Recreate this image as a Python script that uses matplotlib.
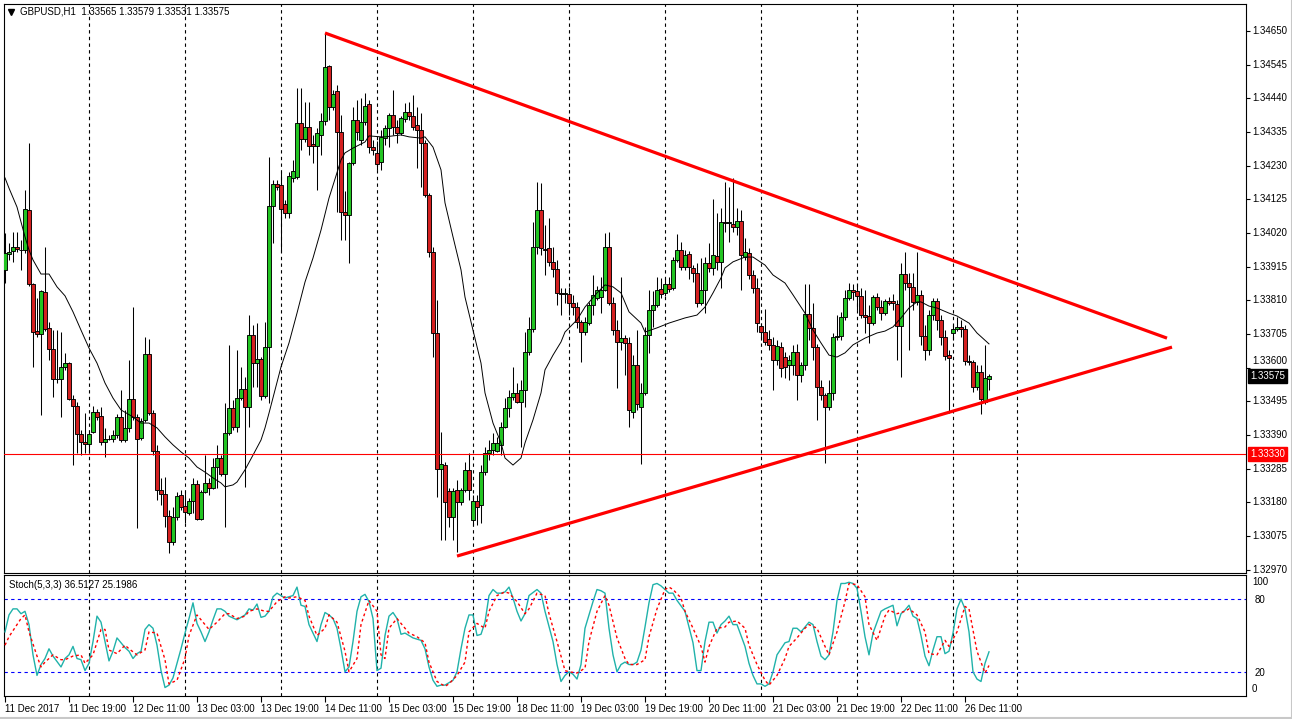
import matplotlib
matplotlib.use("Agg")
import matplotlib.pyplot as plt
import matplotlib.transforms as mtransforms
from matplotlib.lines import Line2D

plt.rcParams['font.family'] = ['Liberation Sans', 'DejaVu Sans']

# GBPUSD H1 candles, one per hour from 11 Dec 03:00 to 26 Dec 2017
open_ = [
    1.33905, 1.33955, 1.33964, 1.33976, 1.33967, 1.33967, 1.34092, 1.33861, 1.33714, 1.33705,
    1.33836, 1.33724, 1.33658, 1.33565, 1.33565, 1.33602, 1.33614, 1.33502, 1.33480, 1.33393,
    1.33368, 1.33362, 1.33399, 1.33462, 1.33449, 1.33368, 1.33377, 1.33378, 1.33390, 1.33446,
    1.33374, 1.33412, 1.33502, 1.33446, 1.33380, 1.33437, 1.33643, 1.33458, 1.33340, 1.33218,
    1.33206, 1.33137, 1.33056, 1.33134, 1.33202, 1.33168, 1.33146, 1.33184, 1.33237, 1.33128,
    1.33212, 1.33240, 1.33224, 1.33290, 1.33318, 1.33268, 1.33396, 1.33474, 1.33415, 1.33505,
    1.33533, 1.33477, 1.33702, 1.33614, 1.33627, 1.33511, 1.33664, 1.34104, 1.34173, 1.34170,
    1.34110, 1.34082, 1.34192, 1.34195, 1.34363, 1.34313, 1.34351, 1.34298, 1.34291, 1.34326,
    1.34369, 1.34541, 1.34413, 1.34463, 1.34335, 1.34086, 1.34076, 1.34238, 1.34373, 1.34310,
    1.34366, 1.34423, 1.34288, 1.34270, 1.34241, 1.34316, 1.34348, 1.34388, 1.34351, 1.34332,
    1.34376, 1.34398, 1.34385, 1.34357, 1.34341, 1.34301, 1.34139, 1.33961, 1.33708, 1.33284,
    1.33295, 1.33215, 1.33134, 1.33218, 1.33181, 1.33218, 1.33281, 1.33125, 1.33184, 1.33171,
    1.33274, 1.33334, 1.33343, 1.33340, 1.33360, 1.33415, 1.33474, 1.33508, 1.33521, 1.33493,
    1.33530, 1.33649, 1.33721, 1.33976, 1.34092, 1.33970, 1.33973, 1.33930, 1.33908, 1.33833,
    1.33831, 1.33830, 1.33802, 1.33789, 1.33742, 1.33711, 1.33739, 1.33795, 1.33817, 1.33820,
    1.33842, 1.33976, 1.33802, 1.33717, 1.33680, 1.33693, 1.33677, 1.33462, 1.33608, 1.33477,
    1.33521, 1.33702, 1.33780, 1.33795, 1.33845, 1.33833, 1.33861, 1.33849, 1.33936, 1.33967,
    1.33914, 1.33955, 1.33911, 1.33895, 1.33802, 1.33842, 1.33926, 1.33911, 1.33948, 1.33930,
    1.34054, 1.34052, 1.34048, 1.34039, 1.34057, 1.33945, 1.33958, 1.33889, 1.33849, 1.33730,
    1.33711, 1.33689, 1.33671, 1.33624, 1.33664, 1.33633, 1.33608, 1.33608, 1.33649, 1.33577,
    1.33608, 1.33767, 1.33724, 1.33664, 1.33540, 1.33515, 1.33477, 1.33521, 1.33696, 1.33699,
    1.33758, 1.33817, 1.33842, 1.33839, 1.33824, 1.33764, 1.33761, 1.33739, 1.33820, 1.33789,
    1.33771, 1.33808, 1.33808, 1.33799, 1.33730, 1.33892, 1.33864, 1.33852, 1.33805, 1.33827,
    1.33699, 1.33655, 1.33764, 1.33808, 1.33749, 1.33696, 1.33640, 1.33708, 1.33721, 1.33727,
    1.33721, 1.33621, 1.33618, 1.33540, 1.33586, 1.33493, 1.33565,
]
high = [
    1.34020, 1.33989, 1.34023, 1.34023, 1.33998, 1.34154, 1.34301, 1.33865, 1.33817, 1.33842,
    1.33976, 1.33742, 1.33717, 1.33717, 1.33711, 1.33646, 1.33617, 1.33515, 1.33493, 1.33405,
    1.33458, 1.33399, 1.33480, 1.33471, 1.33477, 1.33412, 1.33390, 1.33405, 1.33455, 1.33530,
    1.33468, 1.33624, 1.33789, 1.33455, 1.33443, 1.33696, 1.33689, 1.33468, 1.33359, 1.33256,
    1.33259, 1.33156, 1.33165, 1.33212, 1.33218, 1.33212, 1.33193, 1.33256, 1.33249, 1.33218,
    1.33327, 1.33256, 1.33318, 1.33359, 1.33327, 1.33490, 1.33671, 1.33499, 1.33655, 1.33602,
    1.33571, 1.33764, 1.33733, 1.33739, 1.33633, 1.33742, 1.34257, 1.34185, 1.34185, 1.34210,
    1.34123, 1.34210, 1.34248, 1.34472, 1.34472, 1.34429, 1.34429, 1.34326, 1.34348, 1.34394,
    1.34644, 1.34544, 1.34466, 1.34482, 1.34388, 1.34150, 1.34241, 1.34413, 1.34435, 1.34441,
    1.34457, 1.34435, 1.34310, 1.34307, 1.34341, 1.34357, 1.34394, 1.34466, 1.34373, 1.34385,
    1.34426, 1.34429, 1.34451, 1.34413, 1.34394, 1.34310, 1.34145, 1.33976, 1.33811, 1.33399,
    1.33305, 1.33224, 1.33224, 1.33249, 1.33224, 1.33306, 1.33334, 1.33203, 1.33203, 1.33296,
    1.33352, 1.33374, 1.33396, 1.33384, 1.33430, 1.33505, 1.33530, 1.33602, 1.33552, 1.33561,
    1.33711, 1.33758, 1.34054, 1.34179, 1.34176, 1.34045, 1.34067, 1.33976, 1.33936, 1.33849,
    1.33849, 1.33852, 1.33827, 1.33805, 1.33749, 1.33758, 1.33805, 1.33889, 1.33855, 1.33883,
    1.34020, 1.34023, 1.33820, 1.33749, 1.33883, 1.33702, 1.33696, 1.33640, 1.33717, 1.33552,
    1.33727, 1.33842, 1.33839, 1.33883, 1.33880, 1.33880, 1.33883, 1.33945, 1.34017, 1.33992,
    1.33967, 1.33965, 1.33920, 1.33926, 1.33942, 1.33945, 1.33989, 1.34126, 1.34082, 1.34098,
    1.34179, 1.34164, 1.34191, 1.34098, 1.34092, 1.34004, 1.33973, 1.33905, 1.33880, 1.33739,
    1.33783, 1.33717, 1.33696, 1.33686, 1.33680, 1.33649, 1.33640, 1.33671, 1.33674, 1.33618,
    1.33861, 1.33861, 1.33802, 1.33674, 1.33561, 1.33521, 1.33561, 1.33708, 1.33764, 1.33774,
    1.33842, 1.33864, 1.33861, 1.33861, 1.33849, 1.33842, 1.33795, 1.33827, 1.33833, 1.33811,
    1.33814, 1.33820, 1.33830, 1.33811, 1.33926, 1.33961, 1.33895, 1.33895, 1.33961, 1.33842,
    1.33733, 1.33780, 1.33817, 1.33817, 1.33764, 1.33717, 1.33655, 1.33733, 1.33758, 1.33749,
    1.33733, 1.33640, 1.33624, 1.33608, 1.33608, 1.33671, 1.33579,
]
low = [
    1.33864, 1.33936, 1.33930, 1.33961, 1.33905, 1.33958, 1.33855, 1.33602, 1.33696, 1.33452,
    1.33715, 1.33624, 1.33508, 1.33552, 1.33446, 1.33593, 1.33499, 1.33296, 1.33334, 1.33327,
    1.33334, 1.33334, 1.33396, 1.33437, 1.33359, 1.33321, 1.33374, 1.33368, 1.33380, 1.33368,
    1.33368, 1.33399, 1.33437, 1.33100, 1.33374, 1.33430, 1.33452, 1.33327, 1.33187, 1.33171,
    1.33103, 1.33022, 1.33047, 1.33125, 1.33156, 1.33115, 1.33140, 1.33146, 1.33125, 1.33125,
    1.33209, 1.33203, 1.33220, 1.33224, 1.33262, 1.33103, 1.33390, 1.33405, 1.33399, 1.33499,
    1.33228, 1.33415, 1.33540, 1.33540, 1.33499, 1.33505, 1.33490, 1.33989, 1.34154, 1.33961,
    1.34067, 1.34067, 1.34179, 1.34189, 1.34279, 1.34304, 1.34263, 1.34238, 1.34154, 1.34263,
    1.34357, 1.34373, 1.34404, 1.34086, 1.33998, 1.33998, 1.33926, 1.34232, 1.34310, 1.34295,
    1.34357, 1.34270, 1.34263, 1.34217, 1.34217, 1.34295, 1.34288, 1.34326, 1.34301, 1.34326,
    1.34366, 1.34373, 1.34341, 1.34223, 1.34164, 1.34133, 1.33945, 1.33633, 1.33196, 1.33062,
    1.33062, 1.33103, 1.33062, 1.33025, 1.33171, 1.33212, 1.33187, 1.33109, 1.33109, 1.33115,
    1.33265, 1.33312, 1.33327, 1.33337, 1.33327, 1.33412, 1.33446, 1.33499, 1.33490, 1.33352,
    1.33477, 1.33640, 1.33711, 1.33955, 1.33951, 1.33889, 1.33917, 1.33883, 1.33795, 1.33764,
    1.33802, 1.33764, 1.33764, 1.33724, 1.33618, 1.33702, 1.33733, 1.33764, 1.33811, 1.33771,
    1.33839, 1.33795, 1.33702, 1.33536, 1.33655, 1.33577, 1.33415, 1.33443, 1.33468, 1.33299,
    1.33515, 1.33646, 1.33727, 1.33790, 1.33817, 1.33825, 1.33836, 1.33842, 1.33930, 1.33905,
    1.33905, 1.33877, 1.33867, 1.33789, 1.33795, 1.33771, 1.33899, 1.33889, 1.33905, 1.33848,
    1.34023, 1.33992, 1.34023, 1.34014, 1.33842, 1.33936, 1.33877, 1.33833, 1.33711, 1.33686,
    1.33671, 1.33655, 1.33530, 1.33608, 1.33571, 1.33568, 1.33561, 1.33577, 1.33499, 1.33555,
    1.33593, 1.33686, 1.33624, 1.33437, 1.33499, 1.33302, 1.33468, 1.33499, 1.33686, 1.33686,
    1.33749, 1.33811, 1.33811, 1.33780, 1.33755, 1.33708, 1.33677, 1.33733, 1.33780, 1.33749,
    1.33764, 1.33795, 1.33780, 1.33624, 1.33571, 1.33842, 1.33655, 1.33780, 1.33795, 1.33671,
    1.33624, 1.33640, 1.33749, 1.33717, 1.33671, 1.33624, 1.33458, 1.33686, 1.33714, 1.33696,
    1.33608, 1.33608, 1.33524, 1.33530, 1.33455, 1.33487, 1.33531,
]
close = [
    1.33958, 1.33961, 1.33976, 1.33970, 1.33968, 1.34095, 1.33861, 1.33711, 1.33705, 1.33839,
    1.33721, 1.33658, 1.33565, 1.33564, 1.33602, 1.33614, 1.33502, 1.33480, 1.33393, 1.33368,
    1.33362, 1.33393, 1.33462, 1.33446, 1.33368, 1.33377, 1.33378, 1.33390, 1.33446, 1.33374,
    1.33412, 1.33502, 1.33446, 1.33377, 1.33433, 1.33643, 1.33458, 1.33340, 1.33218, 1.33206,
    1.33137, 1.33056, 1.33134, 1.33199, 1.33165, 1.33150, 1.33184, 1.33237, 1.33128, 1.33212,
    1.33240, 1.33224, 1.33290, 1.33318, 1.33268, 1.33396, 1.33474, 1.33415, 1.33505, 1.33533,
    1.33477, 1.33702, 1.33614, 1.33627, 1.33511, 1.33664, 1.34104, 1.34173, 1.34164, 1.34095,
    1.34082, 1.34198, 1.34213, 1.34363, 1.34313, 1.34351, 1.34291, 1.34291, 1.34332, 1.34369,
    1.34538, 1.34413, 1.34454, 1.34335, 1.34086, 1.34076, 1.34238, 1.34373, 1.34335, 1.34366,
    1.34416, 1.34288, 1.34279, 1.34235, 1.34320, 1.34348, 1.34388, 1.34351, 1.34332, 1.34379,
    1.34398, 1.34385, 1.34351, 1.34341, 1.34301, 1.34139, 1.33961, 1.33708, 1.33284, 1.33299,
    1.33181, 1.33134, 1.33215, 1.33181, 1.33218, 1.33281, 1.33218, 1.33184, 1.33165, 1.33274,
    1.33334, 1.33343, 1.33365, 1.33365, 1.33415, 1.33474, 1.33508, 1.33521, 1.33493, 1.33530,
    1.33649, 1.33721, 1.33976, 1.34092, 1.33973, 1.33968, 1.33930, 1.33908, 1.33833, 1.33831,
    1.33833, 1.33802, 1.33789, 1.33742, 1.33711, 1.33742, 1.33795, 1.33827, 1.33842, 1.33842,
    1.33976, 1.33802, 1.33717, 1.33680, 1.33693, 1.33677, 1.33468, 1.33608, 1.33486, 1.33521,
    1.33702, 1.33780, 1.33795, 1.33842, 1.33830, 1.33861, 1.33845, 1.33936, 1.33967, 1.33914,
    1.33951, 1.33914, 1.33895, 1.33802, 1.33842, 1.33926, 1.33911, 1.33951, 1.33930, 1.34054,
    1.34052, 1.34054, 1.34039, 1.34057, 1.33951, 1.33961, 1.33889, 1.33849, 1.33739, 1.33711,
    1.33680, 1.33671, 1.33624, 1.33668, 1.33599, 1.33602, 1.33624, 1.33649, 1.33577, 1.33608,
    1.33767, 1.33724, 1.33664, 1.33540, 1.33515, 1.33477, 1.33521, 1.33696, 1.33699, 1.33758,
    1.33817, 1.33842, 1.33836, 1.33824, 1.33764, 1.33758, 1.33739, 1.33820, 1.33789, 1.33771,
    1.33808, 1.33802, 1.33802, 1.33730, 1.33892, 1.33864, 1.33852, 1.33805, 1.33827, 1.33699,
    1.33655, 1.33764, 1.33808, 1.33749, 1.33696, 1.33636, 1.33630, 1.33721, 1.33727, 1.33721,
    1.33621, 1.33618, 1.33540, 1.33586, 1.33502, 1.33568, 1.33575,
]

# moving average line (read at sampled bars)
ma_bar = [0, 1, 3, 5, 6, 7, 9, 11, 13, 15, 17, 19, 21, 23, 25, 27, 29, 32, 34, 36,
          38, 40, 42, 44, 46, 48, 50, 52, 54, 55, 57, 58, 60, 62, 64, 65, 66, 69, 71, 73,
          75, 77, 79, 81, 84, 85, 87, 90, 91, 94, 95, 99, 101, 104, 105, 107, 109, 110, 112, 114,
          115, 117, 119, 120, 122, 124, 125, 127, 129, 130, 132, 134, 135, 137, 139, 140, 143, 145, 148, 150,
          152, 154, 156, 159, 160, 163, 166, 170, 173, 175, 177, 179, 180, 182, 185, 187, 190, 192, 195, 197,
          200, 202, 204, 206, 208, 210, 212, 215, 218, 220, 222, 224, 226, 228, 229, 231, 233, 236, 238, 241,
          243, 246]
ma_val = [1.34192, 1.34160, 1.34101, 1.34008, 1.33967, 1.33936, 1.33892, 1.33892, 1.33852, 1.33824,
          1.33774, 1.33717, 1.33661, 1.33614, 1.33552, 1.33505, 1.33468, 1.33446, 1.33427, 1.33427,
          1.33412, 1.33384, 1.33359, 1.33337, 1.33318, 1.33290, 1.33274, 1.33256, 1.33240, 1.33228,
          1.33234, 1.33243, 1.33281, 1.33327, 1.33374, 1.33412, 1.33458, 1.33602, 1.33677, 1.33770,
          1.33867, 1.33942, 1.34029, 1.34129, 1.34248, 1.34270, 1.34285, 1.34304, 1.34323, 1.34320,
          1.34320, 1.34326, 1.34320, 1.34316, 1.34320, 1.34288, 1.34217, 1.34114, 1.34008, 1.33905,
          1.33820, 1.33717, 1.33614, 1.33521, 1.33427, 1.33365, 1.33318, 1.33296, 1.33318, 1.33365,
          1.33437, 1.33521, 1.33593, 1.33639, 1.33680, 1.33711, 1.33749, 1.33789, 1.33833, 1.33858,
          1.33852, 1.33833, 1.33774, 1.33739, 1.33711, 1.33724, 1.33739, 1.33755, 1.33764, 1.33789,
          1.33833, 1.33880, 1.33911, 1.33930, 1.33945, 1.33945, 1.33920, 1.33889, 1.33864, 1.33827,
          1.33770, 1.33717, 1.33677, 1.33639, 1.33633, 1.33646, 1.33671, 1.33692, 1.33708, 1.33714,
          1.33727, 1.33755, 1.33786, 1.33805, 1.33805, 1.33792, 1.33786, 1.33770, 1.33761, 1.33739,
          1.33708, 1.33674]

# Stoch(5,3,3) main line
st_bar = [0, 1, 2, 3, 4, 5, 6, 7, 8, 9, 10, 11, 12, 14, 15, 16, 17, 18, 19, 20,
          21, 22, 23, 24, 25, 26, 27, 28, 29, 30, 31, 32, 33, 34, 35, 36, 37, 38, 39, 40,
          41, 42, 43, 44, 45, 46, 47, 48, 49, 50, 51, 52, 53, 54, 55, 56, 58, 59, 60, 61,
          62, 63, 64, 65, 66, 67, 68, 69, 70, 71, 72, 73, 74, 75, 76, 77, 78, 79, 80, 81,
          82, 83, 84, 85, 86, 87, 88, 89, 90, 91, 92, 93, 94, 95, 96, 97, 98, 99, 100, 101,
          102, 104, 105, 106, 107, 108, 109, 110, 112, 113, 114, 115, 116, 117, 118, 119, 120, 121, 122, 123,
          124, 125, 126, 127, 128, 129, 130, 131, 133, 134, 135, 137, 138, 139, 140, 141, 142, 143, 144, 145,
          147, 148, 149, 150, 151, 152, 153, 154, 155, 156, 157, 158, 159, 160, 161, 162, 163, 164, 165, 166,
          167, 168, 170, 171, 172, 173, 174, 175, 176, 177, 178, 179, 180, 181, 182, 183, 184, 185, 186, 187,
          188, 189, 190, 191, 192, 193, 194, 195, 196, 197, 198, 199, 200, 201, 202, 203, 204, 205, 206, 207,
          208, 209, 210, 211, 212, 213, 214, 215, 216, 217, 218, 219, 220, 222, 223, 224, 225, 226, 227, 228,
          229, 230, 231, 232, 233, 234, 235, 236, 237, 238, 239, 240, 241, 242, 243, 244, 245, 246]
st_main = [53, 67, 72, 72, 68, 70, 59, 34, 17, 26, 31, 39, 33, 24, 31, 34, 41, 31, 30, 21,
           27, 45, 66, 61, 45, 29, 37, 48, 44, 40, 37, 31, 35, 37, 55, 59, 56, 42, 21, 7,
           9, 15, 27, 39, 52, 64, 77, 60, 53, 45, 53, 63, 72, 72, 70, 66, 63, 65, 67, 72,
           71, 76, 65, 66, 70, 82, 85, 83, 81, 82, 83, 90, 75, 74, 59, 52, 45, 59, 69, 67,
           64, 56, 39, 20, 24, 45, 70, 82, 84, 78, 64, 21, 23, 50, 66, 69, 64, 51, 52, 50,
           48, 46, 39, 24, 13, 8, 9, 9, 13, 20, 39, 56, 67, 67, 50, 51, 61, 83, 88, 85,
           85, 86, 90, 81, 70, 62, 68, 83, 88, 85, 70, 45, 26, 12, 17, 20, 18, 14, 26, 56,
           78, 88, 87, 85, 56, 34, 20, 26, 28, 26, 26, 28, 38, 57, 77, 92, 93, 91, 88, 85,
           85, 79, 70, 57, 44, 21, 21, 45, 61, 61, 52, 59, 62, 66, 59, 59, 50, 41, 27, 17,
           10, 10, 8, 10, 20, 34, 39, 44, 45, 56, 56, 53, 57, 61, 59, 45, 33, 30, 34, 53,
           79, 93, 93, 94, 93, 89, 70, 49, 34, 52, 61, 70, 72, 75, 58, 68, 71, 75, 66, 64,
           50, 33, 25, 38, 49, 49, 35, 37, 52, 72, 80, 72, 53, 20, 14, 12, 27, 36.5]

# Stoch signal line
sig_bar = [0, 1, 3, 4, 5, 6, 8, 9, 10, 12, 14, 15, 17, 19, 20, 22, 24, 25, 26, 28,
           30, 31, 33, 35, 36, 38, 40, 41, 43, 45, 46, 48, 50, 51, 53, 55, 56, 58, 60, 61,
           63, 65, 66, 68, 70, 71, 73, 75, 76, 78, 80, 81, 83, 85, 86, 88, 89, 91, 93, 94,
           95, 96, 98, 100, 101, 103, 105, 106, 108, 110, 111, 113, 115, 116, 118, 120, 121, 123, 125, 126,
           128, 130, 131, 133, 135, 136, 138, 140, 141, 143, 145, 146, 148, 150, 151, 153, 155, 156, 158, 160,
           161, 163, 165, 166, 167, 169, 170, 172, 174, 175, 176, 178, 180, 181, 183, 185, 186, 188, 190, 191,
           193, 195, 196, 198, 200, 201, 203, 205, 206, 208, 210, 211, 213, 215, 216, 218, 220, 221, 223, 225,
           226, 228, 230, 231, 233, 235, 236, 238, 240, 241, 243, 245, 246]
st_signal = [42, 49, 59, 64, 67, 53, 33, 24, 28, 34, 30, 30, 33, 34, 27, 34, 55, 55, 38, 35,
             42, 39, 34, 38, 53, 52, 30, 10, 13, 31, 50, 67, 59, 55, 61, 68, 68, 64, 66, 70,
             72, 70, 70, 78, 82, 81, 82, 79, 66, 50, 56, 67, 61, 37, 20, 31, 59, 79, 70, 34,
             31, 56, 64, 56, 52, 49, 44, 28, 12, 8, 10, 17, 28, 53, 60, 56, 70, 83, 86, 85,
             78, 68, 72, 85, 83, 68, 45, 21, 20, 19, 23, 45, 70, 83, 75, 48, 31, 26, 26, 30,
             49, 72, 88, 90, 88, 81, 70, 56, 41, 28, 41, 56, 57, 61, 62, 56, 42, 26, 13, 9,
             17, 31, 41, 48, 56, 59, 56, 41, 34, 53, 78, 93, 92, 82, 59, 46, 66, 71, 68, 70,
             72, 67, 53, 35, 34, 46, 41, 53, 74, 72, 37, 19, 25.2]

label_bars = [0, 16, 32, 48, 64, 80, 96, 112, 128, 144, 160, 176, 192, 208, 224, 240]
date_labels = ['11 Dec 2017', '11 Dec 19:00', '12 Dec 11:00', '13 Dec 03:00', '13 Dec 19:00',
               '14 Dec 11:00', '15 Dec 03:00', '15 Dec 19:00', '18 Dec 11:00', '19 Dec 03:00',
               '19 Dec 19:00', '20 Dec 11:00', '21 Dec 03:00', '21 Dec 19:00', '22 Dec 11:00',
               '26 Dec 11:00']
day_breaks = [21, 45, 69, 93, 117, 141, 165, 189, 213, 237, 253]
price_ticks = [1.32970, 1.33075, 1.33180, 1.33285, 1.33390, 1.33495, 1.33600, 1.33705, 1.33810,
               1.33915, 1.34020, 1.34125, 1.34230, 1.34335, 1.34440, 1.34545, 1.34650]
level = 1.33330
last_price = 1.33575

# triangle trendlines (bar, price) anchors
upper_bar = [80, 290.5]
upper_price = [1.34644, 1.33692]
lower_bar = [113, 291.75]
lower_price = [1.33012, 1.33664]

W, H = 1292, 719
fig = plt.figure(figsize=(W / 100, H / 100), dpi=100)
ax = fig.add_axes([4 / W, 1 - 573 / H, 1242 / W, 569 / H])
ax2 = fig.add_axes([4 / W, 1 - 696 / H, 1242 / W, 121 / H])

bull = '#22c422'
bear = '#d42020'
n = len(close)
xs = list(range(n))

# candles
ax.vlines(xs, low, high, color='black', lw=0.75, zorder=2)
bottoms = [min(o, c) for o, c in zip(open_, close)]
heights = [max(abs(c - o), 0.000004) for o, c in zip(open_, close)]
colors = [bull if c >= o else bear for o, c in zip(open_, close)]
ax.bar(xs, heights, bottom=bottoms, width=0.78, color=colors, edgecolor='black',
       linewidth=0.65, zorder=3)

ax.plot(ma_bar, ma_val, color='black', lw=0.7, zorder=4)
ax.axhline(level, color='#ff0000', lw=0.8, zorder=4)
ax.plot(upper_bar, upper_price, color='#ff0000', lw=2.3, zorder=5, solid_capstyle='butt')
ax.plot(lower_bar, lower_price, color='#ff0000', lw=2.3, zorder=5, solid_capstyle='butt')

for a in (ax, ax2):
    for d in day_breaks:
        a.axvline(d, color='black', lw=0.8, ls=(0, (3, 3)), zorder=1)
    a.set_xlim(-0.25, 310.25)
    for s in a.spines.values():
        s.set_linewidth(0.8)

ax.set_ylim(1.329592, 1.347345)
ax.set_xticks([])
ax.set_yticks(price_ticks)
ax.set_yticklabels([])
ax.tick_params(axis='y', left=False, right=True, labelleft=False, labelright=False,
               direction='out', length=3, width=0.8)

# price labels on the right scale; the one under the live-price box is nudged up
tr = mtransforms.blended_transform_factory(ax.transAxes, ax.transData)
for p in price_ticks:
    t = ax.text(1 + 6 / 1242, p, '%.5f' % p, transform=tr, fontsize=7, va='center', ha='left')
    if abs(p - last_price) < 0.0005:
        t.set_transform(tr + mtransforms.ScaledTranslation(0, 5 / 72, fig.dpi_scale_trans))

ax.text(1 + 4 / 1242, last_price, '%.5f' % last_price, transform=tr, fontsize=7,
        color='white', va='center', ha='left', zorder=10,
        bbox=dict(boxstyle='square,pad=0.2', fc='black', ec='black'))
ax.text(1 + 4 / 1242, level, '%.5f' % level, transform=tr, fontsize=7,
        color='white', va='center', ha='left', zorder=10,
        bbox=dict(boxstyle='square,pad=0.2', fc='#ff0000', ec='#ff0000'))

ax.plot([7 / 1242], [1 - 8 / 569], marker='v', ms=4, color='black', transform=ax.transAxes,
        clip_on=False)
ax.text(16 / 1242, 1 - 8 / 569, 'GBPUSD,H1  1.33565 1.33579 1.33531 1.33575',
        transform=ax.transAxes, fontsize=7, va='center', ha='left')

# stochastic panel
ax2.plot(st_bar, st_main, color='#20b2aa', lw=1.0, zorder=3)
ax2.plot(sig_bar, st_signal, color='#ff0000', lw=1.0, ls=(0, (2, 2)), zorder=3)
for lv in (80, 20):
    ax2.axhline(lv, color='#0000ff', lw=0.8, ls=(0, (3, 3)), zorder=2)
ax2.set_ylim(0, 100)
ax2.set_yticks([80, 20])
ax2.set_yticklabels(['80', '20'])
ax2.tick_params(axis='y', left=False, right=True, labelleft=False, labelright=True,
                direction='out', length=0, pad=6, labelsize=7)
ax2.text(1 + 6 / 1242, 1 - 7 / 121, '100', transform=ax2.transAxes, fontsize=7,
         va='center', ha='left')
ax2.text(1 + 6 / 1242, 7 / 121, '0', transform=ax2.transAxes, fontsize=7,
         va='center', ha='left')
ax2.text(5 / 1242, 1 - 10 / 121, 'Stoch(5,3,3) 36.5127 25.1986', transform=ax2.transAxes,
         fontsize=7, va='center', ha='left')

ax2.set_xticks(label_bars)
ax2.set_xticklabels(date_labels, ha='left')
ax2.tick_params(axis='x', direction='out', length=4, width=0.8, pad=2, labelsize=7)

# light window border at the right and bottom edges
fig.add_artist(Line2D([0, 1], [1.5 / H, 1.5 / H], color='#c8c8c8', lw=1.5))
fig.add_artist(Line2D([1 - 0.5 / W, 1 - 0.5 / W], [0, 1], color='#c8c8c8', lw=1.5))

fig.savefig('out.png', dpi=100)
